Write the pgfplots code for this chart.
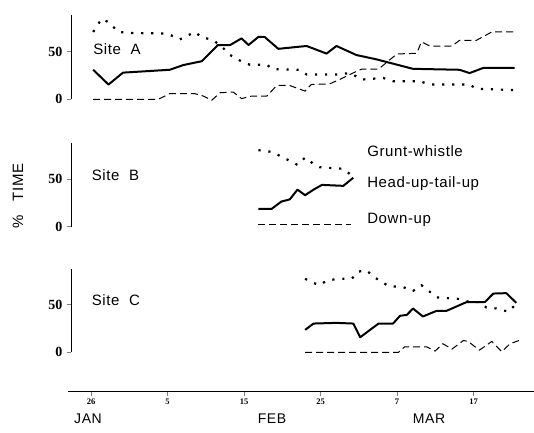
\documentclass[border=0pt]{standalone}
\usepackage{fontspec}
\setmainfont{Liberation Sans}[LetterSpace=4]
\newfontfamily\tickfont{Liberation Serif}
\usepackage{pgfplots}
\pgfplotsset{compat=1.18}
\pgfplotsset{
  panel/.style={scale only axis, width=463.6pt, height=83.8pt,
    xmin=-2.6, xmax=58, ymin=0, ymax=88,
    axis x line=none, axis y line*=left,
    ytick={0,50}, tick align=outside, major tick length=4.5pt,
    yticklabel style={font=\tickfont\bfseries\fontsize{14}{14}\selectfont, xshift=-0.5pt},
    /pgf/number format/assume math mode=true,
    clip=false, axis line style={line width=0.8pt}, ytick style={line width=0.8pt}},
}
\tikzset{
  gw/.style={line width=2.2pt, dash pattern=on 2.2pt off 7.8pt, line cap=butt},
  hu/.style={line width=2pt, line join=round},
  du/.style={line width=1pt, dash pattern=on 7pt off 4pt},
  lab/.style={font=\fontsize{15}{15}\selectfont, anchor=west, inner sep=0pt},
}
\begin{document}
\begin{tikzpicture}
\path[use as bounding box] (0,0) rectangle (534pt,432pt);
% Site A
\begin{axis}[panel, at={(71pt,332.7pt)}, anchor=south west]
\addplot[hu] coordinates {(0.3,31) (2.3,15.5) (4.2,28) (10.3,31) (12.1,36) (14.5,40) (16.6,57) (18.2,57) (19.7,64) (20.6,57) (21.9,65.5) (22.7,65.5) (24.5,53) (28.2,56) (30.8,48) (32.1,56) (34.7,46.5) (37.3,42) (42.1,32) (48.2,31) (49.5,27.5) (51.3,33) (55.4,33)};
\addplot[gw] coordinates {(0.3,70.7) (1.4,84.5) (2.3,81) (3.6,70.7) (5.1,69.7) (9.9,69) (11,65.5) (11.6,62.8) (13.6,70.7) (14.5,65) (15.8,62.8) (16.9,57) (18.2,46.5) (19.7,39.7) (20.8,36.2) (23,36.2) (23.8,31.7) (27.3,31) (28.2,26) (32.1,26) (33.9,27.6) (35.4,20.7) (38.2,22.4) (39.5,19) (43,19) (44.3,15.5) (49.5,15.5) (50.4,11) (55.4,9.7)};
\addplot[du] coordinates {(0.3,0) (8.8,0) (10.3,5.9) (13.6,5.9) (14.7,3.4) (15.8,-1) (16.9,6.9) (18.6,7.6) (19.7,0.7) (21,3.4) (23,3.4) (24.3,14.5) (26,14.5) (28,8.6) (28.8,15.5) (31.2,16.2) (32.5,20.7) (34.1,27) (35.4,31.7) (37.6,31.7) (40,47.6) (42.6,48.3) (43.2,60.3) (44.3,55.9) (47.2,55.9) (48.2,62) (50.4,62) (52.4,70.7) (55.4,70.7)};
\node[lab] at (axis cs:0.3,53) {Site\ \ A};
\end{axis}
% Site B
\begin{axis}[panel, at={(71pt,205.3pt)}, anchor=south west]
\addplot[gw] coordinates {(21.9,80.4) (23.8,78.4) (24.7,74.3) (26.4,67.6) (27,64.9) (28,72.6) (29.1,65.9) (29.9,62.5) (33,60.8) (34.3,52.4)};
\addplot[hu] coordinates {(21.9,18.6) (23.6,18.6) (24.9,26.4) (26,28.7) (27,38.9) (28,33.1) (29.1,38.9) (30.2,43.9) (33,42.9) (34.3,51.4)};
\addplot[du] coordinates {(21.9,2) (34,2)};
\node[lab] at (axis cs:0.1,54) {Site\ \ B};
\node[lab] at (axis cs:36.1,79.8) {Grunt-whistle};
\node[lab] at (axis cs:36.1,45.6) {Head-up-tail-up};
\node[lab] at (axis cs:36.1,7) {Down-up};
\end{axis}
% Site C
\begin{axis}[panel, at={(71pt,79.7pt)}, anchor=south west]
\addplot[gw] coordinates {(28,77.2) (29.1,72.8) (29.9,70.5) (30.8,75.2) (32.3,77.2) (34.1,77.2) (34.9,84.6) (36,86.2) (37.1,78.5) (37.8,75.2) (38.9,69.5) (40.8,68.5) (42.1,64.4) (43.2,70.5) (43.9,66.1) (45.2,57.7) (48.2,56) (49.5,52.7) (50.8,52.7) (51.7,47) (53,46) (54.6,42.6) (55.6,51)};
\addplot[hu] coordinates {(28,23.5) (29.1,30.2) (32.1,30.9) (34.3,30.2) (35.2,15.8) (37.6,30.2) (39.5,30.2) (40.4,38.3) (41.3,39.3) (42.1,46) (43.4,37.6) (45.2,43.6) (46.5,43.6) (49.1,52.7) (51.5,52.7) (52.6,61.7) (54.3,62.1) (55.6,52)};
\addplot[du] coordinates {(28,0) (40.2,0) (41,5.7) (43.9,5.7) (45,1.3) (46,9) (47.2,3.4) (48.7,12.4) (49.3,11.4) (50.8,2.3) (52.4,11.4) (53.7,0.7) (54.8,9) (56.3,13.4)};
\node[lab] at (axis cs:0.1,55) {Site\ \ C};
\end{axis}
% Time axis
\begin{axis}[scale only axis, width=466.65pt, height=10pt, at={(68.05pt,40.5pt)}, anchor=south west,
  xmin=-3, xmax=58, ymin=0, ymax=1, axis y line=none, axis x line*=bottom,
  xtick={0,10,20,30,40,50}, xticklabels={26,5,15,25,7,17},
  tick align=outside, major tick length=4pt,
  xticklabel style={font=\tickfont\bfseries\fontsize{8.5}{8.5}\selectfont},
  axis line style={line width=0.8pt}, xtick style={line width=0.8pt}]
\addplot[draw=none] coordinates {(0,0) (50,0)};
\end{axis}
\node[font=\fontsize{14}{14}\selectfont] at (88pt,13pt) {JAN};
\node[font=\fontsize{14}{14}\selectfont] at (272pt,13pt) {FEB};
\node[font=\fontsize{14}{14}\selectfont] at (429pt,13pt) {MAR};
\node[font=\fontsize{15}{15}\selectfont, rotate=90] at (18pt,236pt) {\%\ \ \ TIME};
\end{tikzpicture}
\end{document}
